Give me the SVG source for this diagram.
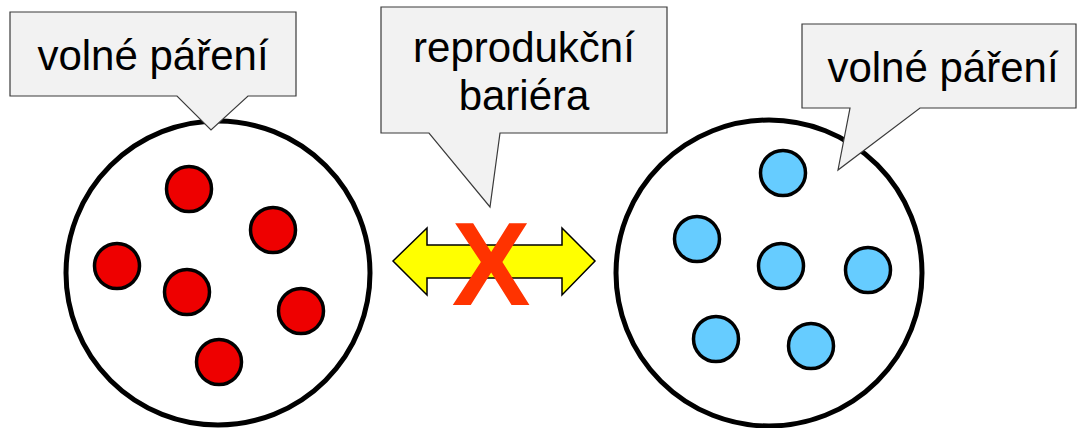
<svg xmlns="http://www.w3.org/2000/svg" width="1077" height="428" viewBox="0 0 1077 428">
<style>
.pop{fill:#fff;stroke:#000;stroke-width:5}
.red{fill:#EE0000;stroke:#000;stroke-width:3.5}
.blue{fill:#66CCFF;stroke:#000;stroke-width:3.5}
.call{fill:#F2F2F2;stroke:#3a3a3a;stroke-width:1.2;stroke-linejoin:miter}
.lbl{font-family:"Liberation Sans",Arial,sans-serif;font-size:42px;fill:#000;text-anchor:middle}
</style>
<rect width="1077" height="428" fill="#fff"/>
<g id="population-left">
<circle class="pop" cx="218" cy="273" r="152"/>
<circle class="red" cx="189" cy="189" r="22.5"/>
<circle class="red" cx="273" cy="230" r="22.5"/>
<circle class="red" cx="117" cy="266" r="22.5"/>
<circle class="red" cx="187" cy="292" r="22.5"/>
<circle class="red" cx="301" cy="311" r="22.5"/>
<circle class="red" cx="219" cy="362" r="22.5"/>
</g>
<g id="population-right">
<circle class="pop" cx="769" cy="273" r="153"/>
<circle class="blue" cx="783" cy="173" r="22.5"/>
<circle class="blue" cx="697" cy="239" r="22.5"/>
<circle class="blue" cx="781" cy="266" r="22.5"/>
<circle class="blue" cx="868" cy="270" r="22.5"/>
<circle class="blue" cx="716" cy="339" r="22.5"/>
<circle class="blue" cx="811" cy="346" r="22.5"/>
</g>
<g id="connectors">
<polygon points="393,261 427,228 427,245 562,245 562,228 595,261 562,295 562,278 427,278 427,295" fill="#FFFF00" stroke="#000" stroke-width="1.5" stroke-linejoin="miter"/>
<text x="491" y="305" font-family="'Liberation Sans',Arial,sans-serif" font-size="118" font-weight="bold" fill="#FF3300" text-anchor="middle">X</text>
</g>
<g id="callout-left">
<path class="call" d="M10,12 H296 V96 H248 L211,130 L177,96 H10 Z"/>
<text class="lbl" x="153" y="70">volné páření</text>
</g>
<g id="callout-middle">
<path class="call" d="M381,7 H667 V133 H500 L490,207 L429,133 H381 Z"/>
<text class="lbl" x="524" y="62">reprodukční</text>
<text class="lbl" x="524" y="110">bariéra</text>
</g>
<g id="callout-right">
<path class="call" d="M802,24 H1076 V108 H920 L838,170 L850,108 H802 Z"/>
<text class="lbl" x="943" y="82">volné páření</text>
</g>
</svg>
